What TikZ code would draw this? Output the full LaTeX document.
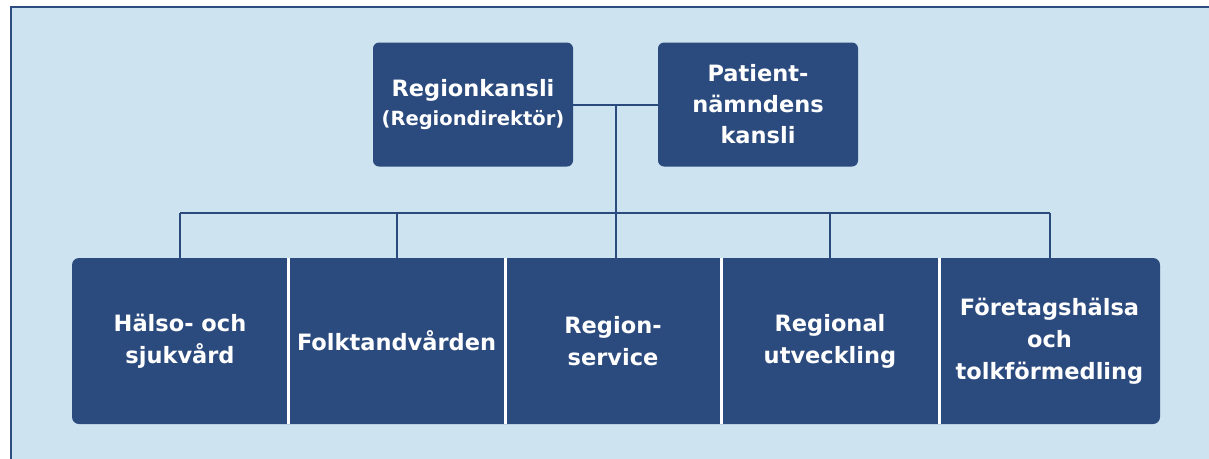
\documentclass[tikz,border=0pt]{standalone}
\usepackage{fontspec}
\setmainfont{DejaVu Sans}
\usetikzlibrary{backgrounds,calc}
\definecolor{boxblue}{HTML}{2B4A7E}
\definecolor{bgblue}{HTML}{CDE4F0}
\definecolor{frameblue}{HTML}{2D4D80}
\tikzset{
  x=1pt, y=-1pt,
  topbox/.style={fill=boxblue, rounded corners=6pt, minimum width=200pt, minimum height=124pt,
    inner sep=0pt, outer sep=0pt, text=white, align=center,
    font=\fontsize{22.5}{31}\selectfont\bfseries},
  botbox/.style={minimum height=166pt, inner sep=0pt, outer sep=0pt, text=white, align=center,
    font=\fontsize{22.5}{32}\selectfont\bfseries},
  conn/.style={draw=boxblue, line width=2pt},
  divider/.style={draw=white, line width=3pt}
}
\begin{document}
\begin{tikzpicture}
\useasboundingbox (0,0) rectangle (1209,458);
\clip (0,0) rectangle (1209,458);

\node[topbox] (rk) at (473,104.5) {Regionkansli\\[-2pt]{\fontsize{19.5}{24}\selectfont(Regiondirektör)}};
\node[topbox] (pn) at (758,104.5) {Patient-\\nämndens\\kansli};

\node[botbox, minimum width=216pt] (b1) at (180,341) {Hälso- och\\sjukvård};
\node[botbox, minimum width=217pt] (b2) at (396.5,341) {Folktandvården};
\node[botbox, minimum width=216pt] (b3) at (613,341) {Region-\\service};
\node[botbox, minimum width=218pt] (b4) at (830,341) {Regional\\utveckling};
\node[botbox, minimum width=221pt] (b5) at (1049.5,341) {Företagshälsa\\och\\tolkförmedling};

\begin{pgfonlayer}{background}
  \fill[white] (0,0) rectangle (1209,458);
  \draw[fill=bgblue, draw=frameblue, line width=2.4pt] (11,7) rectangle (1230,480);
  \fill[boxblue, rounded corners=7pt] (b1.north west) rectangle (b5.south east);
\end{pgfonlayer}
\draw[divider] (b1.north east) -- (b1.south east);
\draw[divider] (b2.north east) -- (b2.south east);
\draw[divider] (b3.north east) -- (b3.south east);
\draw[divider] (b4.north east) -- (b4.south east);

\coordinate (j) at ($(rk.east)!0.5!(pn.west)$);
\coordinate (bar) at (616,213);
\draw[conn] (rk.east) -- (pn.west);
\draw[conn] (j) -- (j |- b3.north);
\draw[conn] (b1.north |- bar) -- (b5.north |- bar);
\draw[conn] (b1.north |- bar) -- (b1.north);
\draw[conn] (b2.north |- bar) -- (b2.north);
\draw[conn] (b4.north |- bar) -- (b4.north);
\draw[conn] (b5.north |- bar) -- (b5.north);
\end{tikzpicture}
\end{document}
